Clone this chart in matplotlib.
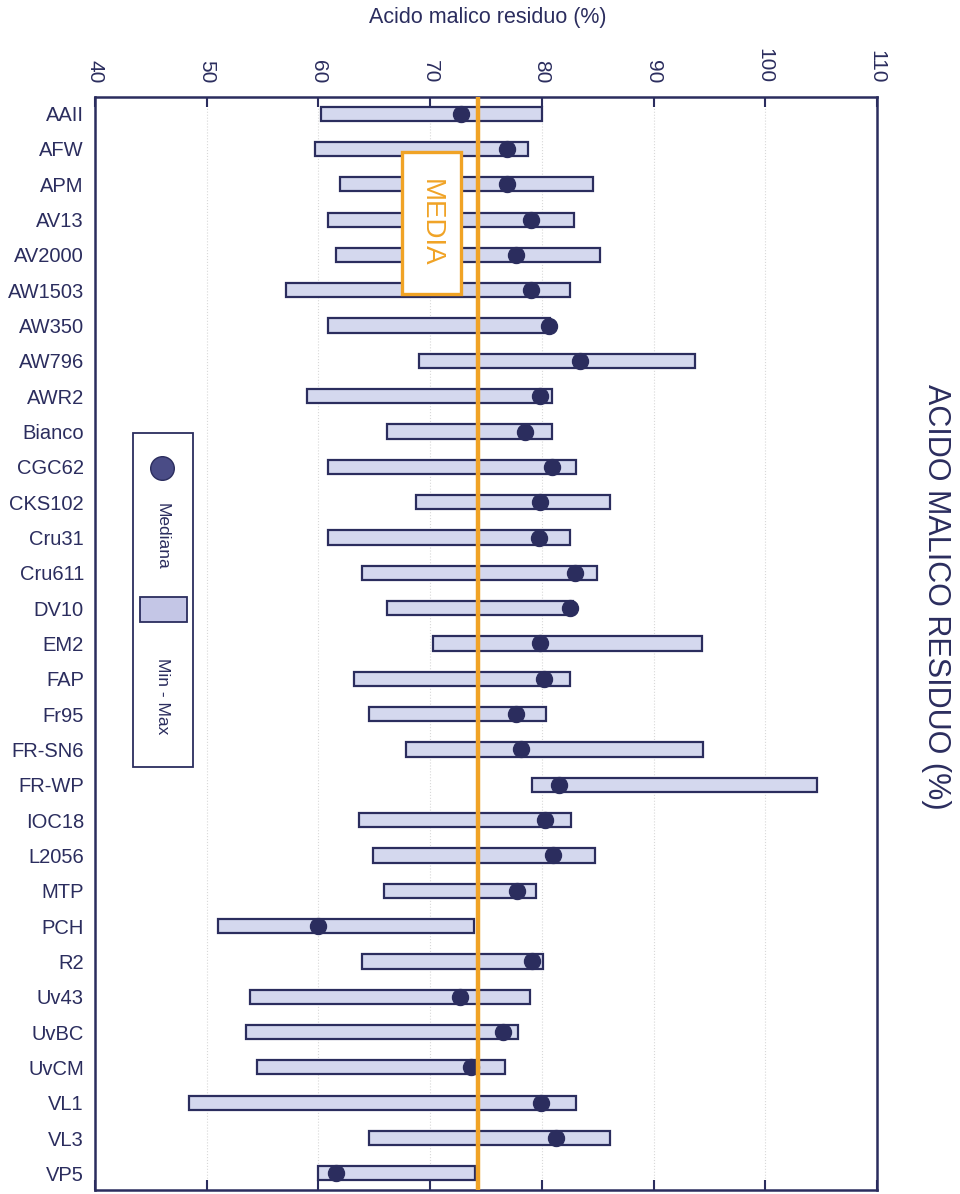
import matplotlib
matplotlib.use("Agg")
import matplotlib.pyplot as plt
from matplotlib.patches import Rectangle
from matplotlib.lines import Line2D

plt.rcParams['font.family'] = ['Liberation Sans', 'DejaVu Sans']

categories = ["AAII", "AFW", "APM", "AV13", "AV2000", "AW1503", "AW350", "AW796",
              "AWR2", "Bianco", "CGC62", "CKS102", "Cru31", "Cru611", "DV10", "EM2",
              "FAP", "Fr95", "FR-SN6", "FR-WP", "IOC18", "L2056", "MTP", "PCH", "R2",
              "Uv43", "UvBC", "UvCM", "VL1", "VL3", "VP5"]
min_vals = [60.2, 59.7, 61.9, 60.9, 61.6, 57.1, 60.9, 69.0, 59.0, 66.1, 60.9, 68.7,
            60.9, 63.9, 66.1, 70.3, 63.2, 64.5, 67.8, 79.1, 63.6, 64.9, 65.9, 51.0,
            63.9, 53.9, 53.5, 54.5, 48.4, 64.5, 60.0]
max_vals = [80.0, 78.8, 84.6, 82.9, 85.2, 82.5, 80.7, 93.7, 80.9, 80.9, 83.1, 86.1,
            82.5, 84.9, 82.8, 94.3, 82.5, 80.4, 94.4, 104.6, 82.6, 84.8, 79.5, 73.9,
            80.1, 78.9, 77.9, 76.7, 83.1, 86.1, 74.0]
median_vals = [72.8, 76.9, 76.9, 79.0, 77.7, 79.0, 80.6, 83.4, 79.8, 78.5, 80.9, 79.8,
               79.7, 83.0, 82.5, 79.8, 80.2, 77.7, 78.1, 81.5, 80.3, 81.0, 77.8, 60.0,
               79.1, 72.7, 76.5, 73.7, 79.9, 81.3, 61.6]
media = 74.3

navy = '#2b2d5e'
fill = '#d4d8ee'
orange = '#f0a326'

W, H = 960, 1194
fig = plt.figure(figsize=(9.6, 11.94), dpi=100)


def fx(px):
    return px / W


def fy(py):
    return 1 - py / H


ax = fig.add_axes([fx(95), fy(1190), fx(877) - fx(95), fy(97) - fy(1190)])

ypos = list(range(len(categories)))
widths = [b - a for a, b in zip(min_vals, max_vals)]
ax.barh(ypos, widths, left=min_vals, height=0.4, color=fill, edgecolor=navy,
        linewidth=1.6, zorder=2)
ax.plot(median_vals, ypos, 'o', color=navy, markersize=11.5, zorder=3)
ax.axvline(media, color=orange, linewidth=3.2, zorder=4)

ax.set_xlim(40, 110)
ax.set_ylim(len(categories) - 0.53, -0.47)
ax.set_xticks(range(40, 111, 10))
ax.xaxis.grid(True, linestyle=':', color='#d8d8d8', linewidth=0.8, zorder=0)
ax.set_axisbelow(True)

ax.set_yticks(ypos)
ax.set_yticklabels(categories)
ax.set_yticks(ypos[::2], minor=True)
ax.tick_params(axis='y', which='major', length=0, pad=8, labelsize=14.5,
               labelcolor=navy)
ax.tick_params(axis='y', which='minor', left=True, right=True, direction='in',
               length=7, width=1.5, color=navy)
ax.tick_params(axis='x', which='major', top=True, bottom=True, labeltop=True,
               labelbottom=False, direction='in', length=7, width=1.5,
               color=navy, labelsize=15, labelcolor=navy, labelrotation=-90, pad=10)
for lbl in ax.get_xticklabels():
    lbl.set_verticalalignment('bottom')

for s in ax.spines.values():
    s.set_color(navy)
    s.set_linewidth(1.8)

# titles
fig.text(fx(488), fy(18), "Acido malico residuo (%)", ha='center', va='center',
         fontsize=15.5, color=navy)
fig.text(fx(936), fy(597), "ACIDO MALICO RESIDUO (%)", ha='center', va='center',
         rotation=-90, fontsize=22, color=navy)

# MEDIA box
fig.add_artist(Rectangle((fx(402), fy(294)), fx(461) - fx(402), fy(152) - fy(294),
                         facecolor='white', edgecolor=orange, linewidth=2.4,
                         zorder=5))
fig.text(fx(431), fy(223), "MEDIA", ha='center', va='center', rotation=-90,
         fontsize=20, color=orange, zorder=6)

# legend
fig.add_artist(Rectangle((fx(133), fy(767)), fx(193) - fx(133), fy(433) - fy(767),
                         facecolor='white', edgecolor=navy, linewidth=1.3,
                         zorder=5))
fig.add_artist(Line2D([fx(162)], [fy(468)], marker='o', markersize=17,
                      color='#4a4c86', markeredgecolor=navy, zorder=6))
fig.text(fx(162), fy(536), "Mediana", ha='center', va='center', rotation=-90,
         fontsize=12.5, color=navy, zorder=6)
fig.add_artist(Rectangle((fx(140), fy(622)), fx(187) - fx(140), fy(597) - fy(622),
                         facecolor='#c4c6e6', edgecolor=navy, linewidth=1.3,
                         zorder=6))
fig.text(fx(162), fy(696), "Min - Max", ha='center', va='center', rotation=-90,
         fontsize=12.5, color=navy, zorder=6)

fig.savefig("out.png", dpi=100)
